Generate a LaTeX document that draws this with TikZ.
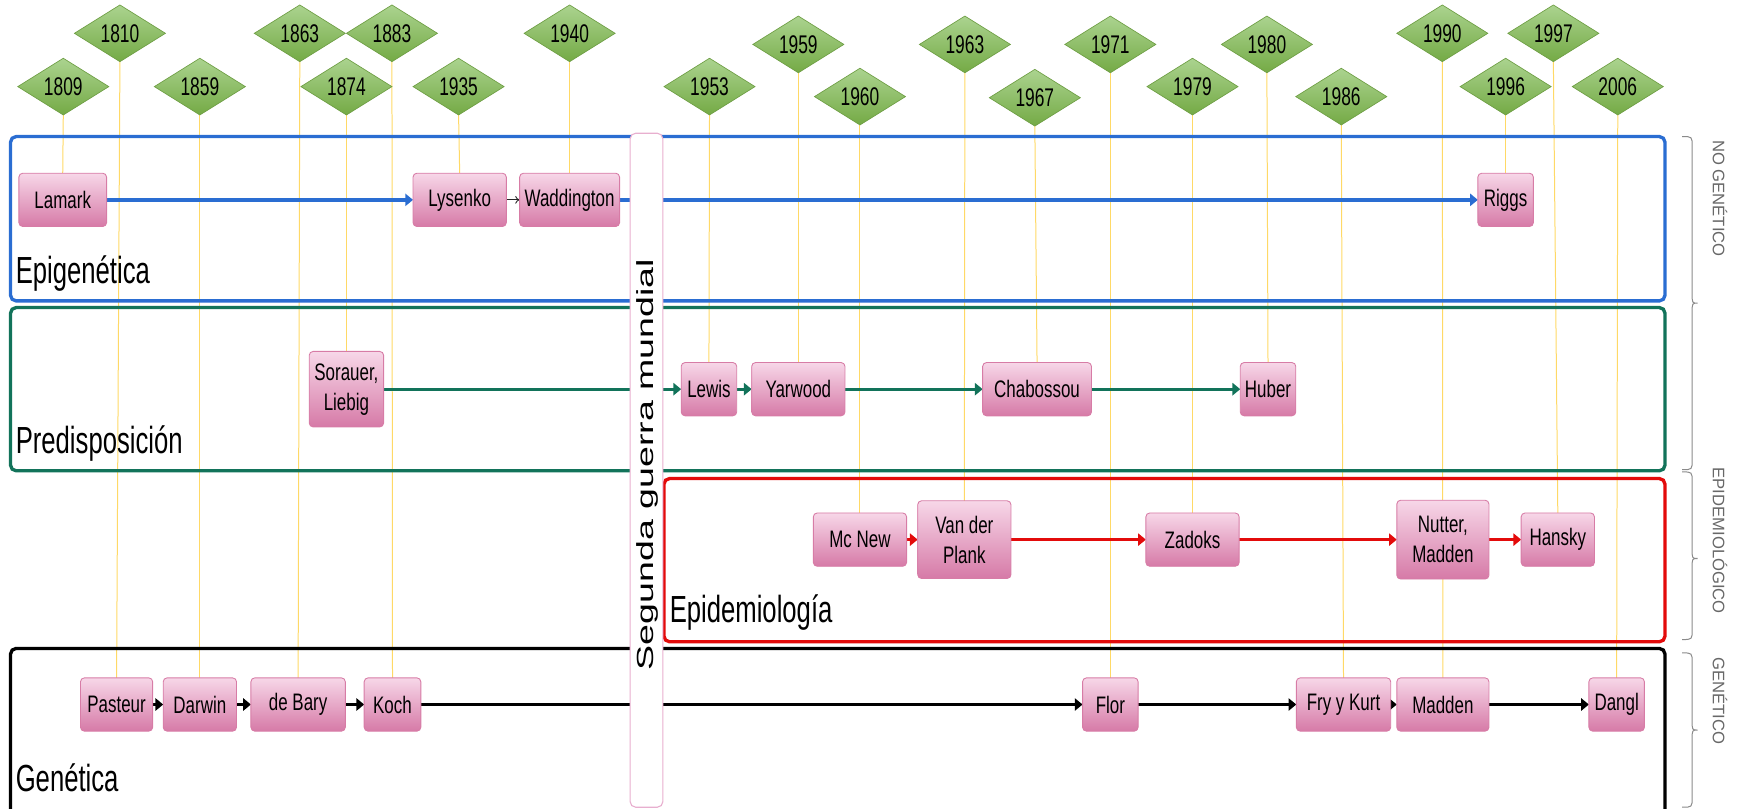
\documentclass[tikz,border=0pt]{standalone}
\usepackage{fontspec}
\setmainfont{Liberation Sans}
\newfontfamily\condfont[FakeStretch=0.68]{Liberation Sans}
\newfontfamily\boxfont[FakeStretch=0.71]{Liberation Sans}
\usetikzlibrary{shapes.geometric,arrows.meta}

\pgfdeclarelayer{guides}
\pgfdeclarelayer{frames}
\pgfdeclarelayer{front}
\pgfsetlayers{guides,frames,main,front}

\definecolor{epiblue}{HTML}{2A6DD2}
\definecolor{predgreen}{HTML}{12735A}
\definecolor{epired}{HTML}{E30B0B}
\definecolor{guidecol}{HTML}{FFD966}
\definecolor{pinktop}{HTML}{F7D7E8}
\definecolor{pinkbot}{HTML}{D67AA7}
\definecolor{pinkedge}{HTML}{D77CA6}
\definecolor{greentop}{HTML}{ABD38F}
\definecolor{greenbot}{HTML}{74AA45}
\definecolor{greenedge}{HTML}{6E9E44}
\definecolor{bracegray}{HTML}{8A8A8A}
\definecolor{sidegray}{HTML}{686868}
\definecolor{waredge}{HTML}{E8AFCF}

\begin{document}
\begin{tikzpicture}[x=1pt,y=-1pt,
  person/.style n args={2}{draw=pinkedge, line width=0.8pt, rounded corners=3.5pt,
    top color=pinktop, bottom color=pinkbot, minimum width=#1, minimum height=#2,
    inner sep=0pt, outer sep=0pt, align=center,
    font=\boxfont\fontsize{21.5}{27}\selectfont},
  year/.style={diamond, draw=greenedge, line width=0.6pt, top color=greentop,
    bottom color=greenbot, minimum width=82pt, minimum height=47pt, inner sep=0pt,
    outer sep=0pt, font=\condfont\fontsize{23}{25}\selectfont},
  guide/.style={guidecol, line width=0.9pt},
  frame/.style={line width=3pt, rounded corners=5pt},
  flow/.style={line width=3pt, -{Triangle[length=7pt,width=11pt]}},
  fieldlabel/.style={inner sep=0pt, anchor=base west, font=\condfont\fontsize{34}{40}\selectfont},
  sidelabel/.style={inner sep=0pt, rotate=-90, anchor=west, text=sidegray,
    font=\fontsize{15}{18}\selectfont},
  bracestyle/.style={bracegray, line width=0.9pt}
]
\useasboundingbox (0,0) rectangle (1568,728);

% year markers
\foreach \yr/\xx/\yy in {1810/108/30, 1863/270/30, 1883/353/30, 1940/513/30,
    1990/1299/30, 1997/1399/30,
    1809/57/78, 1859/180/78, 1874/312/78, 1935/413/78, 1953/639/78,
    1979/1074/78, 1996/1356/78, 2006/1457/78,
    1959/719/40, 1963/869/40, 1971/1000/40, 1980/1141/40,
    1960/774.5/87, 1967/932/88, 1986/1208/87}
  \node[year] (y\yr) at (\xx,\yy) {\yr};

% authors
\node[person={79pt}{48pt}] (lamark) at (56.5,180) {Lamark};
\node[person={84pt}{48pt}] (lysenko) at (414,180) {Lysenko};
\node[person={90pt}{48pt}] (wadd) at (513,180) {Waddington};
\node[person={50pt}{48pt}] (riggs) at (1356,180) {Riggs};

\node[person={67pt}{68pt}] (sorauer) at (312,350.5) {Sorauer,\\Liebig};
\node[person={50pt}{48pt}] (lewis) at (638.5,350.5) {Lewis};
\node[person={84pt}{48pt}] (yarwood) at (719,350.5) {Yarwood};
\node[person={98pt}{48pt}] (chabossou) at (934,350.5) {Chabossou};
\node[person={50pt}{48pt}] (huber) at (1142,350.5) {Huber};

\node[person={84pt}{48pt}] (mcnew) at (774.5,486) {Mc New};
\node[person={84pt}{70pt}] (vanderplank) at (868.5,486) {Van der\\Plank};
\node[person={84pt}{48pt}] (zadoks) at (1074,486) {Zadoks};
\node[person={83pt}{71pt}] (nutter) at (1299.5,486) {Nutter,\\Madden};
\node[person={66pt}{48pt}] (hansky) at (1403,486) {Hansky};

\node[person={65pt}{48pt}] (pasteur) at (105,634.5) {Pasteur};
\node[person={66pt}{48pt}] (darwin) at (180,634.5) {Darwin};
\node[person={85pt}{48pt}] (debary) at (268.5,634.5) {de Bary};
\node[person={51pt}{48pt}] (koch) at (353.5,634.5) {Koch};
\node[person={50pt}{48pt}] (flor) at (1000,634.5) {Flor};
\node[person={85pt}{48pt}] (fry) at (1210,634.5) {Fry y Kurt};
\node[person={83pt}{48pt}] (madden) at (1299.5,634.5) {Madden};
\node[person={50pt}{48pt}] (dangl) at (1456,634.5) {Dangl};

% field names
\node[fieldlabel] (lblepi) at (14,255) {Epigenética};
\node[fieldlabel] (lblpred) at (14,408) {Predisposición};
\node[fieldlabel] (lblepid) at (603,561) {Epidemiología};
\node[fieldlabel] (lblgen) at (14,713) {Genética};

% year guide lines
\begin{pgfonlayer}{guides}
\foreach \a/\b in {1809/lamark, 1810/pasteur, 1859/darwin, 1863/debary,
    1874/sorauer, 1883/koch, 1935/lysenko, 1940/wadd, 1953/lewis, 1959/yarwood,
    1960/mcnew, 1963/vanderplank, 1967/chabossou, 1971/flor, 1979/zadoks,
    1980/huber, 1986/fry, 1990/madden, 1996/riggs, 1997/hansky, 2006/dangl}
  \draw[guide] (y\a.south) -- (\b.north);
\end{pgfonlayer}

% field frames and flows
\begin{pgfonlayer}{frames}
\draw[frame, epiblue] (9.5,123) rectangle (1499.5,271);
\draw[frame, predgreen] (9.5,277) rectangle (1499.5,424);
\draw[frame, epired] (598,431) rectangle (1499.5,578);
\draw[frame, black] (9.5,584) rectangle (1499.5,735);

\draw[flow, epiblue] (lamark) -- (lysenko);
\draw[line width=0.8pt, black!85, -{To[length=4pt,width=7pt]}] (lysenko) -- (wadd);
\draw[flow, epiblue] (wadd) -- (riggs);

\draw[flow, predgreen] (sorauer) -- (lewis);
\draw[flow, predgreen] (lewis) -- (yarwood);
\draw[flow, predgreen] (yarwood) -- (chabossou);
\draw[flow, predgreen] (chabossou) -- (huber);

\draw[flow, epired] (mcnew) -- (vanderplank);
\draw[flow, epired] (vanderplank) -- (zadoks);
\draw[flow, epired] (zadoks) -- (nutter);
\draw[flow, epired] (nutter) -- (hansky);

\draw[flow, black] (pasteur) -- (darwin);
\draw[flow, black] (darwin) -- (debary);
\draw[flow, black] (debary) -- (koch);
\draw[flow, black] (koch) -- (flor);
\draw[flow, black] (flor) -- (fry);
\draw[flow, black] (fry) -- (madden);
\draw[flow, black] (madden) -- (dangl);
\end{pgfonlayer}

% Second World War band
\begin{pgfonlayer}{front}
\node[draw=waredge, line width=1pt, fill=white, rounded corners=5pt,
  minimum width=29.5pt, minimum height=607pt, inner sep=0pt] (ww2) at (582.25,423.5) {};
\node[rotate=90, anchor=base, inner sep=0pt, font=\fontsize{21}{25}\selectfont]
  (ww2text) at (589,418.5) {\scalebox{1.61}[1]{Segunda guerra mundial}};
\end{pgfonlayer}

% braces and their labels on the right
\foreach \ya/\ym/\yb in {123/273/423, 425/503/576, 588/657.5/727}
  \draw[bracestyle] (1515,\ya) .. controls (1524,\ya) .. (1524,{\ya+9})
    -- (1524,{\ym-8}) .. controls (1524,\ym) .. (1529,\ym)
    .. controls (1524,\ym) .. (1524,{\ym+8})
    -- (1524,{\yb-9}) .. controls (1524,\yb) .. (1515,\yb);

\node[sidelabel] (sidenogen) at (1549,126) {NO GENÉTICO};
\node[sidelabel] (sideepid) at (1549,421) {EPIDEMIOLÓGICO};
\node[sidelabel] (sidegen) at (1549,592) {GENÉTICO};
\end{tikzpicture}
\end{document}
